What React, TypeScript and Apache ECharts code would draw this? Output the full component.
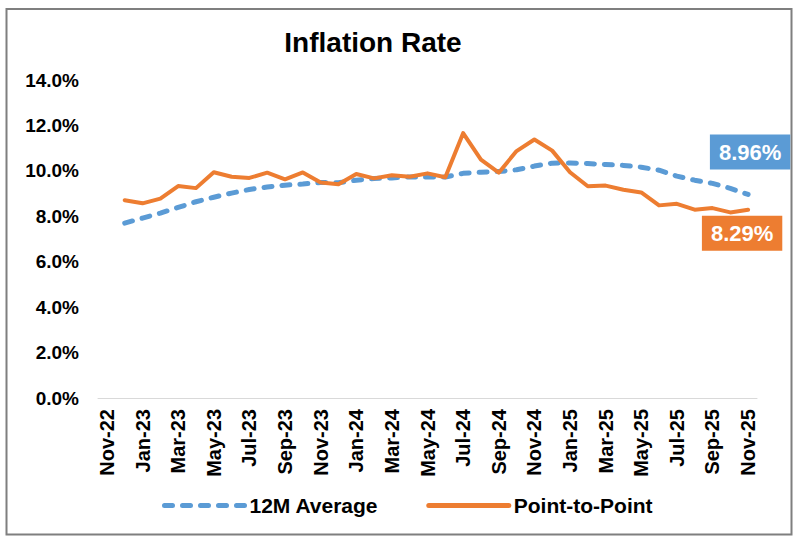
import React, { useEffect, useRef } from "react";
import * as echarts from "echarts";

const months = [
  "Nov-22", "Dec-22", "Jan-23", "Feb-23", "Mar-23", "Apr-23", "May-23", "Jun-23", "Jul-23", "Aug-23", "Sep-23", "Oct-23",
  "Nov-23", "Dec-23", "Jan-24", "Feb-24", "Mar-24", "Apr-24", "May-24", "Jun-24", "Jul-24", "Aug-24", "Sep-24", "Oct-24",
  "Nov-24", "Dec-24", "Jan-25", "Feb-25", "Mar-25", "Apr-25", "May-25", "Jun-25", "Jul-25", "Aug-25", "Sep-25", "Oct-25",
  "Nov-25",
];

const avg12m: (number | null)[] = [
  null, 7.7, 7.92, 8.14, 8.39, 8.64, 8.84, 9.02, 9.18, 9.29, 9.37, 9.42,
  9.49, 9.48, 9.59, 9.66, 9.69, 9.73, 9.73, 9.73, 9.89, 9.94, 9.97, 10.05,
  10.21, 10.34, 10.35, 10.32, 10.28, 10.24, 10.16, 10.03, 9.77, 9.59, 9.45, 9.23,
  8.96,
];

const pointToPoint: (number | null)[] = [
  null, 8.71, 8.57, 8.78, 9.33, 9.24, 9.94, 9.74, 9.69, 9.92, 9.63, 9.93,
  9.49, 9.41, 9.86, 9.67, 9.81, 9.74, 9.89, 9.72, 11.66, 10.49, 9.92, 10.87,
  11.38, 10.89, 9.94, 9.32, 9.35, 9.17, 9.05, 8.48, 8.55, 8.29, 8.36, 8.17,
  8.29,
];

const yMax = 14;
const yStep = 2;

const FONT = "'Liberation Sans', Arial, sans-serif";
const BLUE = "#5B9BD5";
const ORANGE = "#ED7D31";
const BLUE_DASH = [8, 10];

function withLastLabel(values: (number | null)[], color: string, offset: number[]) {
  return values.map((v, i) => {
    if (i !== values.length - 1) return v;
    return {
      value: v,
      label: {
        show: true,
        position: "top",
        offset,
        formatter: (p: any) => `${Number(p.value).toFixed(2)}%`,
        color: "#fff",
        fontFamily: FONT,
        fontWeight: "bold",
        fontSize: 22,
        backgroundColor: color,
        padding: [7, 9, 6, 9],
      },
    };
  });
}

export default function App() {
  const ref = useRef<HTMLDivElement>(null);
  useEffect(() => {
    if (!ref.current) return;
    const chart = echarts.init(ref.current, undefined, { renderer: "svg" });
    chart.setOption({
      animation: false,
      backgroundColor: "#fff",
      title: {
        text: "Inflation Rate",
        left: 368,
        top: 23,
        textAlign: "center",
        textStyle: { fontFamily: FONT, fontWeight: "bold", fontSize: 28, color: "#000" },
      },
      graphic: [
        {
          type: "rect",
          shape: { x: 6.5, y: 9, width: 785, height: 525.5 },
          style: { fill: "none", stroke: "#7f7f7f", lineWidth: 2 },
          silent: true,
        },
      ],
      grid: { left: 98, right: 43, top: 80, bottom: 146, containLabel: false },
      legend: {
        bottom: 23,
        left: 157,
        itemWidth: 80,
        itemHeight: 14,
        itemGap: 48,
        itemStyle: { opacity: 0 },
        textStyle: { fontFamily: FONT, fontWeight: "bold", fontSize: 21, color: "#000" },
        data: [
          { name: "12M Average", lineStyle: { color: BLUE, width: 5, type: BLUE_DASH, cap: "round" } },
          { name: "Point-to-Point", lineStyle: { color: ORANGE, width: 5, cap: "round" } },
        ],
      },
      xAxis: {
        type: "category",
        data: months,
        boundaryGap: true,
        axisLine: { show: true, lineStyle: { color: "#d9d9d9", width: 1 } },
        axisTick: { show: false },
        axisLabel: {
          interval: 1,
          rotate: 90,
          margin: 11,
          fontFamily: FONT,
          fontWeight: "bold",
          fontSize: 20,
          color: "#000",
        },
      },
      yAxis: {
        type: "value",
        min: 0,
        max: yMax,
        interval: yStep,
        axisLine: { show: false },
        axisTick: { show: false },
        splitLine: { show: false },
        axisLabel: {
          margin: 19,
          formatter: (v: number) => `${v.toFixed(1)}%`,
          fontFamily: FONT,
          fontWeight: "bold",
          fontSize: 19,
          color: "#000",
        },
      },
      series: [
        {
          name: "12M Average",
          type: "line",
          data: withLastLabel(avg12m, BLUE, [2, -20]),
          symbol: "circle",
          symbolSize: 0,
          showSymbol: true,
          color: BLUE,
          lineStyle: { color: BLUE, width: 5, type: BLUE_DASH, cap: "round" },
          z: 2,
        },
        {
          name: "Point-to-Point",
          type: "line",
          data: withLastLabel(pointToPoint, ORANGE, [-6, 46]),
          symbol: "circle",
          symbolSize: 0,
          showSymbol: true,
          color: ORANGE,
          lineStyle: { color: ORANGE, width: 4, cap: "round", join: "round" },
          z: 3,
        },
      ],
    });
    return () => chart.dispose();
  }, []);
  return <div ref={ref} style={{ position: "fixed", left: 0, top: 0, width: 800, height: 544 }} />;
}
